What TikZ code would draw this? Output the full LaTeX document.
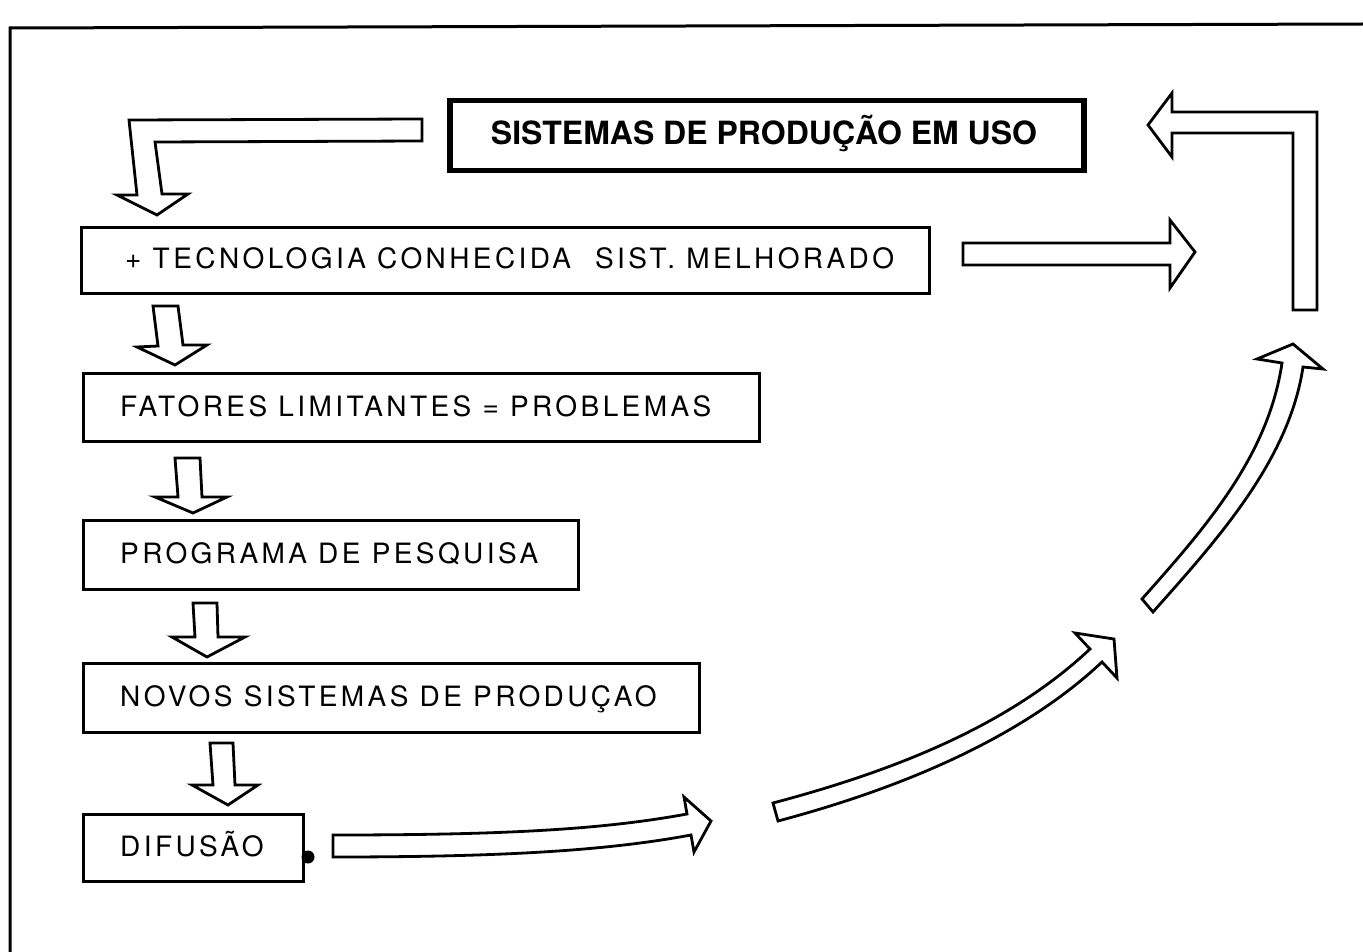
\documentclass[tikz,border=0pt]{standalone}
\usepackage{fontspec}
\setmainfont{TeX Gyre Heros}
\newfontfamily\lblfont[LetterSpace=12.2]{TeX Gyre Heros}
\begin{document}
\begin{tikzpicture}[x=1pt,y=-1pt,
  box/.style={draw, line width=3pt, rectangle, inner sep=0pt, anchor=north west},
  titlebox/.style={box, line width=5.5pt},
  lbl/.style={anchor=base west, inner sep=0pt, font=\lblfont\fontsize{28}{30}\selectfont},
  ttl/.style={anchor=base, inner sep=0pt, font=\bfseries\fontsize{32}{34}\selectfont},
  blk/.style={draw, fill=white, line width=2.8pt, line join=miter},
  frame/.style={line width=3pt}
]
\useasboundingbox (0,0) rectangle (1363,952);
\fill[white] (0,0) rectangle (1363,952);

% outer frame
\draw[frame] (10,952) -- (10,28) -- (1363,24);

% boxes
\node[titlebox, minimum width=634pt, minimum height=70pt] (sis) at (447,98) {};
\node[box, minimum width=848pt, minimum height=66pt] (tec) at (80,226) {};
\node[box, minimum width=676pt, minimum height=68pt] (fat) at (82,372) {};
\node[box, minimum width=495pt, minimum height=69pt] (pro) at (82,519) {};
\node[box, minimum width=616pt, minimum height=69pt] (nov) at (82,662) {};
\node[box, minimum width=220pt, minimum height=67pt] (dif) at (82,813) {};

% labels
\node[ttl] (sisT) at (764,145) {SISTEMAS DE PRODUÇÃO EM USO};
\node[lbl] (tecT) at (125,269) {+ TECNOLOGIA CONHECIDA\hspace{24pt}SIST. MELHORADO};
\node[lbl] (fatT) at (120,416) {FATORES LIMITANTES = PROBLEMAS};
\node[lbl] (proT) at (120,563) {PROGRAMA DE PESQUISA};
\node[lbl] (novT) at (120,706) {NOVOS SISTEMAS DE PRODUÇAO};
\node[lbl] (difT) at (120,856) {DIFUSÃO};

% dot at the DIFUSAO box
\node[circle, fill=black, inner sep=0pt, minimum size=13pt] (dot) at (308,857) {};

% top-left L arrow (from title to first box)
\draw[blk] (422,119) -- (129,120) -- (137,195) -- (117,195) -- (157,215)
  -- (188,194) -- (162,194) -- (155,142) -- (422,141) -- cycle;

% top-right L arrow (back to title)
\draw[blk] (1148,125) -- (1172,93) -- (1172,112) -- (1317,112) -- (1317,310)
  -- (1293,310) -- (1293,133) -- (1172,133) -- (1172,157) -- cycle;

% straight right arrow after box 2
\draw[blk] (963,243) -- (1170,243) -- (1170,220) -- (1195,252) -- (1170,288)
  -- (1170,265) -- (963,265) -- cycle;

% small down arrows
\draw[blk] (153,306) -- (178,306) -- (183,345) -- (207,345) -- (175,365)
  -- (137,347) -- (158,346) -- cycle;
\draw[blk] (175,458) -- (200,458) -- (202,497) -- (227,497) -- (193,513)
  -- (155,497) -- (178,497) -- cycle;
\draw[blk] (193,603) -- (217,603) -- (218,637) -- (245,637) -- (207,657)
  -- (172,637) -- (195,637) -- cycle;
\draw[blk] (210,743) -- (233,743) -- (235,785) -- (258,785) -- (228,805)
  -- (192,785) -- (213,785) -- cycle;

% curved arrows
\draw[blk] (333,835) .. controls (500,835) and (600,830) .. (687,814)
  -- (684,797) -- (711,821) -- (694,852) -- (691,835)
  .. controls (605,851) and (500,857) .. (333,857) -- cycle;

\draw[blk] (773,803) .. controls (886,773) and (1005,729) .. (1090,649)
  -- (1075,633) -- (1114,639) -- (1117,678) -- (1102,662)
  .. controls (1017,742) and (891,791) .. (778,821) -- cycle;

\draw[blk] (1142,599) .. controls (1205,528) and (1268,457) .. (1282,363)
  -- (1257,359) -- (1293,344) -- (1323,369) -- (1303,367)
  .. controls (1289,461) and (1216,541) .. (1153,612) -- cycle;
\end{tikzpicture}
\end{document}
